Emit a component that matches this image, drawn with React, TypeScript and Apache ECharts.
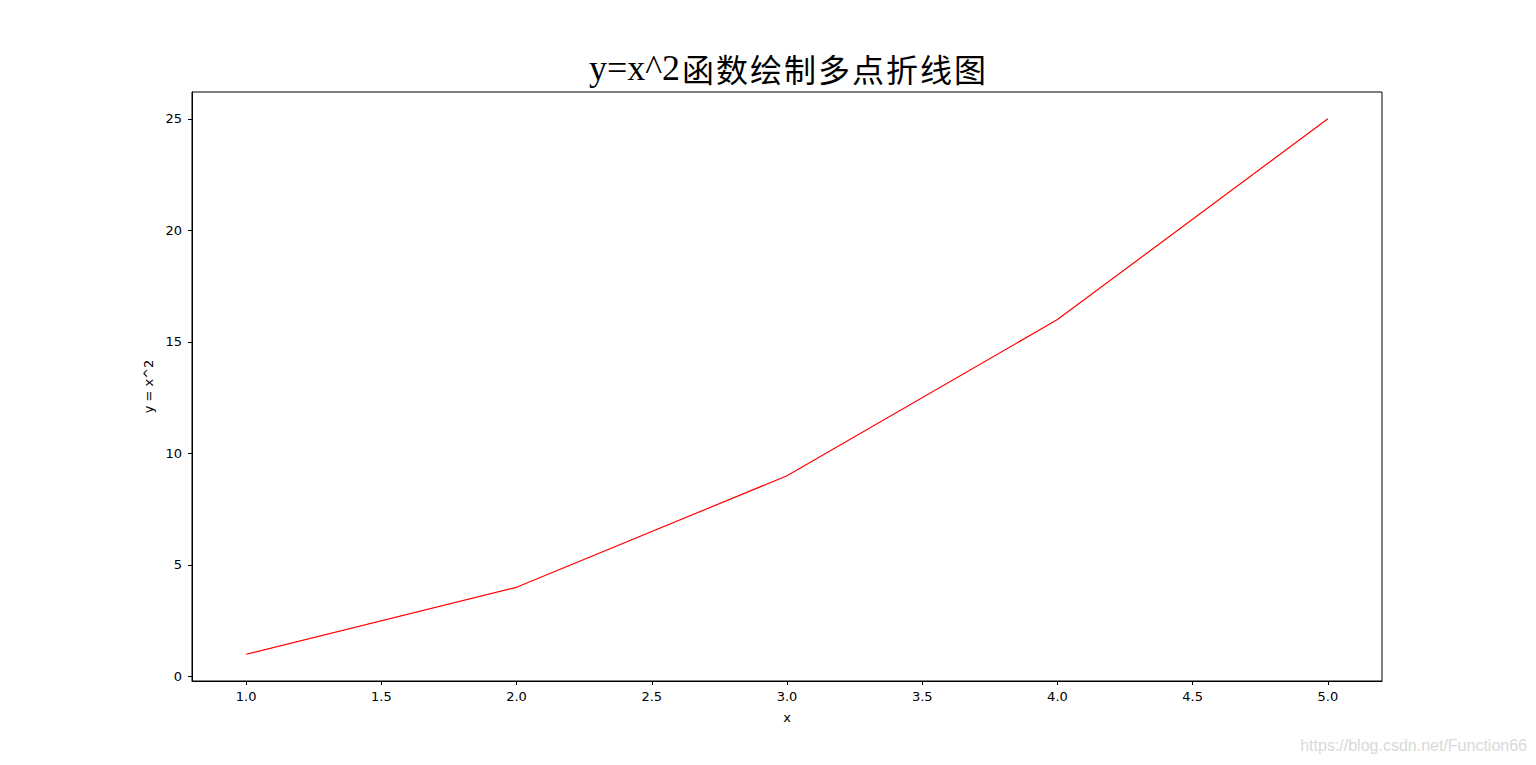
import React, { useEffect, useRef } from "react";
import * as echarts from "echarts";

const xValues = [1, 2, 3, 4, 5];
const yValues = [1, 4, 9, 16, 25];
const xTicks = [1, 1.5, 2, 2.5, 3, 3.5, 4, 4.5, 5];
const yTicks = [0, 5, 10, 15, 20, 25];
const titleLatin = "y=x^2";
const titleCJK = "函数绘制多点折线图";
const xName = "x";
const yName = "y = x^2";
const watermark = "https://blog.csdn.net/Function66";

export default function App() {
  const ref = useRef<HTMLDivElement>(null);
  useEffect(() => {
    document.body.style.margin = "0";
    const chart = echarts.init(ref.current!, null, { renderer: "svg" });
    const axisFont = { fontFamily: "DejaVu Sans", fontSize: 13, color: "#000" };
    const richTitle =
      "{l|" + titleLatin + "}" +
      Array.from(titleCJK).map((c) => "{c|" + c + "}").join("");
    chart.setOption({
      animation: false,
      backgroundColor: "#fff",
      title: {
        text: richTitle,
        left: 783,
        top: 45,
        textAlign: "center",
        textStyle: {
          fontFamily: "'Liberation Serif', 'Noto Sans CJK SC'",
          fontSize: 32,
          fontWeight: "normal",
          color: "#000",
          rich: {
            l: {
              fontFamily: "'Liberation Serif'",
              fontSize: 36,
              color: "#000",
              padding: [0, 1, 0, 0],
            },
            c: {
              fontFamily: "'Noto Sans CJK SC'",
              fontSize: 32,
              color: "#000",
              padding: [0, 1, 0, 1],
            },
          },
        },
      },
      grid: {
        left: 192,
        top: 92,
        right: 154,
        bottom: 84,
        show: true,
        borderColor: "#000",
        borderWidth: 1,
        backgroundColor: "#fff",
      },
      xAxis: {
        type: "value",
        min: 0.8,
        max: 5.2,
        name: xName,
        nameLocation: "middle",
        nameGap: 30,
        nameTextStyle: axisFont,
        axisLine: { show: true, onZero: false, lineStyle: { color: "#000", width: 1 } },
        axisTick: { show: true, length: 4, lineStyle: { color: "#000" }, customValues: xTicks },
        axisLabel: {
          ...axisFont,
          margin: 9,
          customValues: xTicks,
          formatter: (v: number) => v.toFixed(1),
        },
        splitLine: { show: false },
      },
      yAxis: {
        type: "value",
        min: -0.2,
        max: 26.2,
        name: yName,
        nameLocation: "middle",
        nameGap: 37,
        nameRotate: 90,
        nameTextStyle: axisFont,
        axisLine: { show: true, onZero: false, lineStyle: { color: "#000", width: 1 } },
        axisTick: { show: true, length: 4, lineStyle: { color: "#000" }, customValues: yTicks },
        axisLabel: {
          ...axisFont,
          margin: 10,
          customValues: yTicks,
          formatter: (v: number) => String(v),
        },
        splitLine: { show: false },
      },
      series: [
        {
          type: "line",
          data: xValues.map((x, i) => [x, yValues[i]]),
          showSymbol: false,
          symbol: "none",
          lineStyle: { color: "#ff0000", width: 1.2 },
        },
      ],
      graphic: [
        {
          type: "text",
          right: 9,
          top: 737,
          style: {
            text: watermark,
            font: "16px 'Liberation Sans'",
            fill: "#d9d9d9",
          },
        },
      ],
    });
    return () => chart.dispose();
  }, []);
  return <div ref={ref} style={{ width: 1536, height: 765 }} />;
}
